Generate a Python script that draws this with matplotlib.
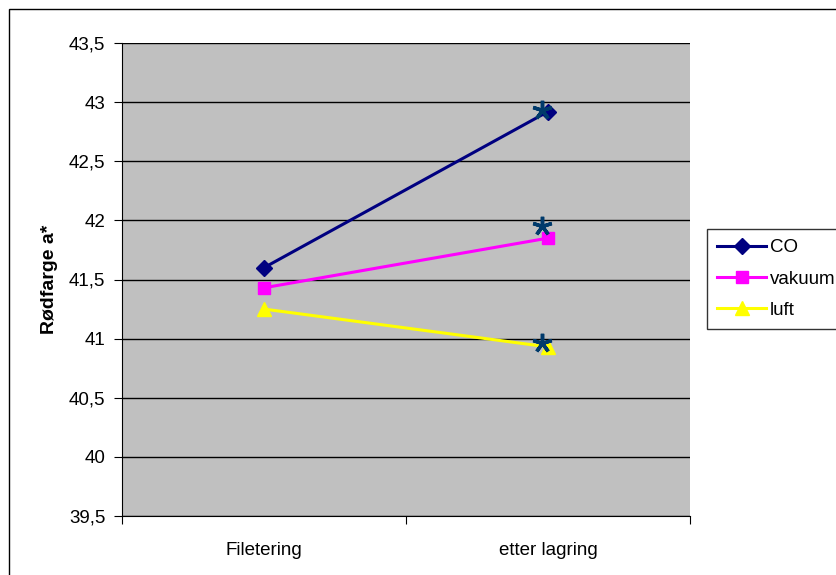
import matplotlib.pyplot as plt
from matplotlib.patches import Rectangle
from matplotlib.ticker import FuncFormatter, FixedLocator

plt.rcParams['font.family'] = ['Liberation Sans', 'DejaVu Sans']

# Data
categories = ["Filetering", "etter lagring"]
co = [41.60, 42.92]
vakuum = [41.43, 41.85]
luft = [41.25, 40.93]
# significance markers (asterisks) at "etter lagring"
sig_values = [42.93, 41.95, 40.96]

fig = plt.figure(figsize=(8.37, 5.75), dpi=100)
ax = fig.add_axes([122 / 837, 1 - 516 / 575, (690 - 122) / 837, (516 - 43) / 575])
ax.set_facecolor('#C0C0C0')

x = list(range(len(categories)))
ax.plot(x, co, color='#000080', lw=2.2, marker='D', ms=8, label='CO', zorder=3)
ax.plot(x, vakuum, color='#FF00FF', lw=2.2, marker='s', ms=9, label='vakuum', zorder=3)
ax.plot(x, luft, color='#FFFF00', lw=2.2, marker='^', ms=10, label='luft', zorder=3)

# asterisks
ax.plot([x[1] - 0.02] * len(sig_values), sig_values, ls='none', marker=(5, 2, 0),
        ms=14, mew=2.5, color='#003A6B', zorder=4)

ax.set_xlim(-0.5, 1.5)
ax.set_ylim(39.5, 43.5)
ax.set_yticks([39.5 + 0.5 * i for i in range(9)])
ax.yaxis.set_major_formatter(FuncFormatter(lambda v, p: f"{v:g}".replace('.', ',')))
ax.grid(axis='y', color='black', lw=1)
ax.set_axisbelow(True)

ax.xaxis.set_major_locator(FixedLocator([-0.5, 0.5, 1.5]))
ax.xaxis.set_minor_locator(FixedLocator(x))
ax.set_xticklabels([], minor=False)
ax.set_xticklabels(categories, minor=True)
ax.tick_params(axis='x', which='major', length=6, color='black')
ax.tick_params(axis='x', which='minor', length=0, pad=19, labelsize=13.5)
ax.tick_params(axis='y', length=6, pad=6, labelsize=13.5)

for s in ['top', 'right']:
    ax.spines[s].set_visible(False)
ax.spines['left'].set_color('black')
ax.spines['bottom'].set_color('black')

ax.set_ylabel('Rødfarge a*', fontsize=14, fontweight='bold', labelpad=8)

leg = fig.legend(loc='upper left', bbox_to_anchor=(707 / 837, 1 - 229 / 575),
                 frameon=True, fancybox=False, edgecolor='black', fontsize=13.5,
                 borderaxespad=0, handlelength=2.6, labelspacing=0.75,
                 handletextpad=0.2, borderpad=0.55)
leg.get_frame().set_linewidth(1)

# outer chart border
fig.patches.append(Rectangle((9 / 837, -0.1), 2, 1 - 9 / 575 + 0.1, transform=fig.transFigure,
                             fill=False, edgecolor='black', lw=1, zorder=0))

fig.savefig('out.png', dpi=100)
